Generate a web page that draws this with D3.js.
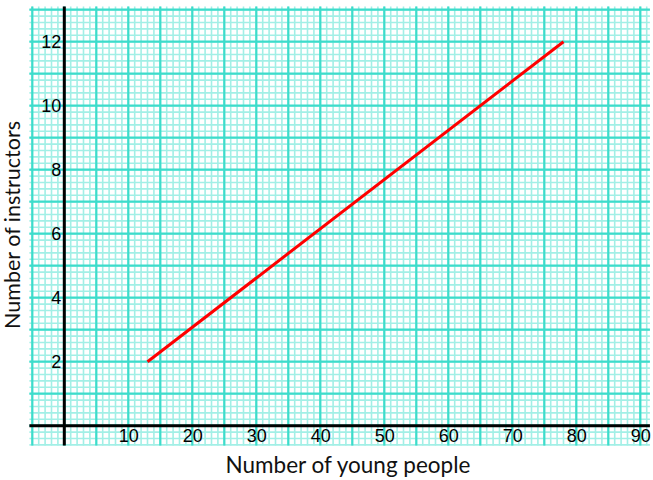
<!DOCTYPE html>
<html>
<head>
<meta charset="utf-8">
<script src="https://cdn.jsdelivr.net/npm/d3@7"></script>
<style>
  html, body { margin: 0; padding: 0; background: #fff; }
  svg { display: block; }
</style>
</head>
<body>
<svg id="chart" width="653" height="480"></svg>
<script>
// ---- data ----
const youngPeople = [13, 78];
const instructors = [2, 12];
const xTickLabels = [10, 20, 30, 40, 50, 60, 70, 80, 90];
const yTickLabels = [2, 4, 6, 8, 10, 12];
const xTitle = "Number of young people";
const yTitle = "Number of instructors";

// ---- layout ----
const svg = d3.select("#chart");
const x = d3.scaleLinear().domain([0, 90]).range([64.3, 640.3]);
const y = d3.scaleLinear().domain([0, 12]).range([425.7, 41.7]);
const gxMin = -5.45, gxMax = 91.5, gyMin = -0.62, gyMax = 13.1;

const minorColor = "#a2efe6";
const majorColor = "#3ddccb";

const grid = svg.append("g");
grid.selectAll("line.mv").data(d3.range(-5, 92, 1)).join("line")
  .attr("x1", d => x(d)).attr("x2", d => x(d))
  .attr("y1", y(gyMax)).attr("y2", y(gyMin))
  .attr("stroke", minorColor).attr("stroke-width", 1.6);
grid.selectAll("line.mh").data(d3.range(-3, 66, 1).map(i => i * 0.2)).join("line")
  .attr("x1", x(gxMin)).attr("x2", x(gxMax))
  .attr("y1", d => y(d)).attr("y2", d => y(d))
  .attr("stroke", minorColor).attr("stroke-width", 1.6);
grid.append("g").selectAll("line").data(d3.range(-5, 91, 5)).join("line")
  .attr("x1", d => x(d)).attr("x2", d => x(d))
  .attr("y1", y(gyMax)).attr("y2", y(gyMin))
  .attr("stroke", majorColor).attr("stroke-width", 2.2);
grid.append("g").selectAll("line").data(d3.range(0, 14, 1)).join("line")
  .attr("x1", x(gxMin)).attr("x2", x(gxMax))
  .attr("y1", d => y(d)).attr("y2", d => y(d))
  .attr("stroke", majorColor).attr("stroke-width", 2.2);

// axes lines
svg.append("line")
  .attr("x1", x(gxMin)).attr("x2", x(gxMax))
  .attr("y1", y(0)).attr("y2", y(0))
  .attr("stroke", "#000").attr("stroke-width", 3);
svg.append("line")
  .attr("x1", x(0)).attr("x2", x(0))
  .attr("y1", y(gyMax)).attr("y2", y(gyMin))
  .attr("stroke", "#000").attr("stroke-width", 3);

// tick labels via axes
const xAxis = svg.append("g").attr("transform", `translate(0,${y(0)})`)
  .call(d3.axisBottom(x).tickValues(xTickLabels).tickSize(0).tickPadding(4));
const yAxis = svg.append("g").attr("transform", `translate(${x(0)},0)`)
  .call(d3.axisLeft(y).tickValues(yTickLabels).tickSize(0).tickPadding(3));
[xAxis, yAxis].forEach(a => {
  a.attr("font-size", null).attr("font-family", null);
  a.select(".domain").remove();
  a.selectAll("text")
    .attr("fill", "#000")
    .attr("font-family", "'Liberation Sans', Arial, sans-serif")
    .attr("font-size", 18);
});

// data line
const line = d3.line().x(d => x(d[0])).y(d => y(d[1]));
svg.append("path")
  .datum(youngPeople.map((v, i) => [v, instructors[i]]))
  .attr("d", line)
  .attr("fill", "none")
  .attr("stroke", "#ff0000")
  .attr("stroke-width", 3);

// titles
svg.append("text")
  .attr("x", 348).attr("y", 473)
  .attr("text-anchor", "middle")
  .attr("font-family", "Lato, 'Open Sans', sans-serif")
  .attr("font-size", 22.5)
  .attr("fill", "#111")
  .text(xTitle);
svg.append("text")
  .attr("transform", "translate(20,225) rotate(-90)")
  .attr("text-anchor", "middle")
  .attr("font-family", "Lato, 'Open Sans', sans-serif")
  .attr("font-size", 21.5)
  .attr("fill", "#111")
  .text(yTitle);
</script>
</body>
</html>
